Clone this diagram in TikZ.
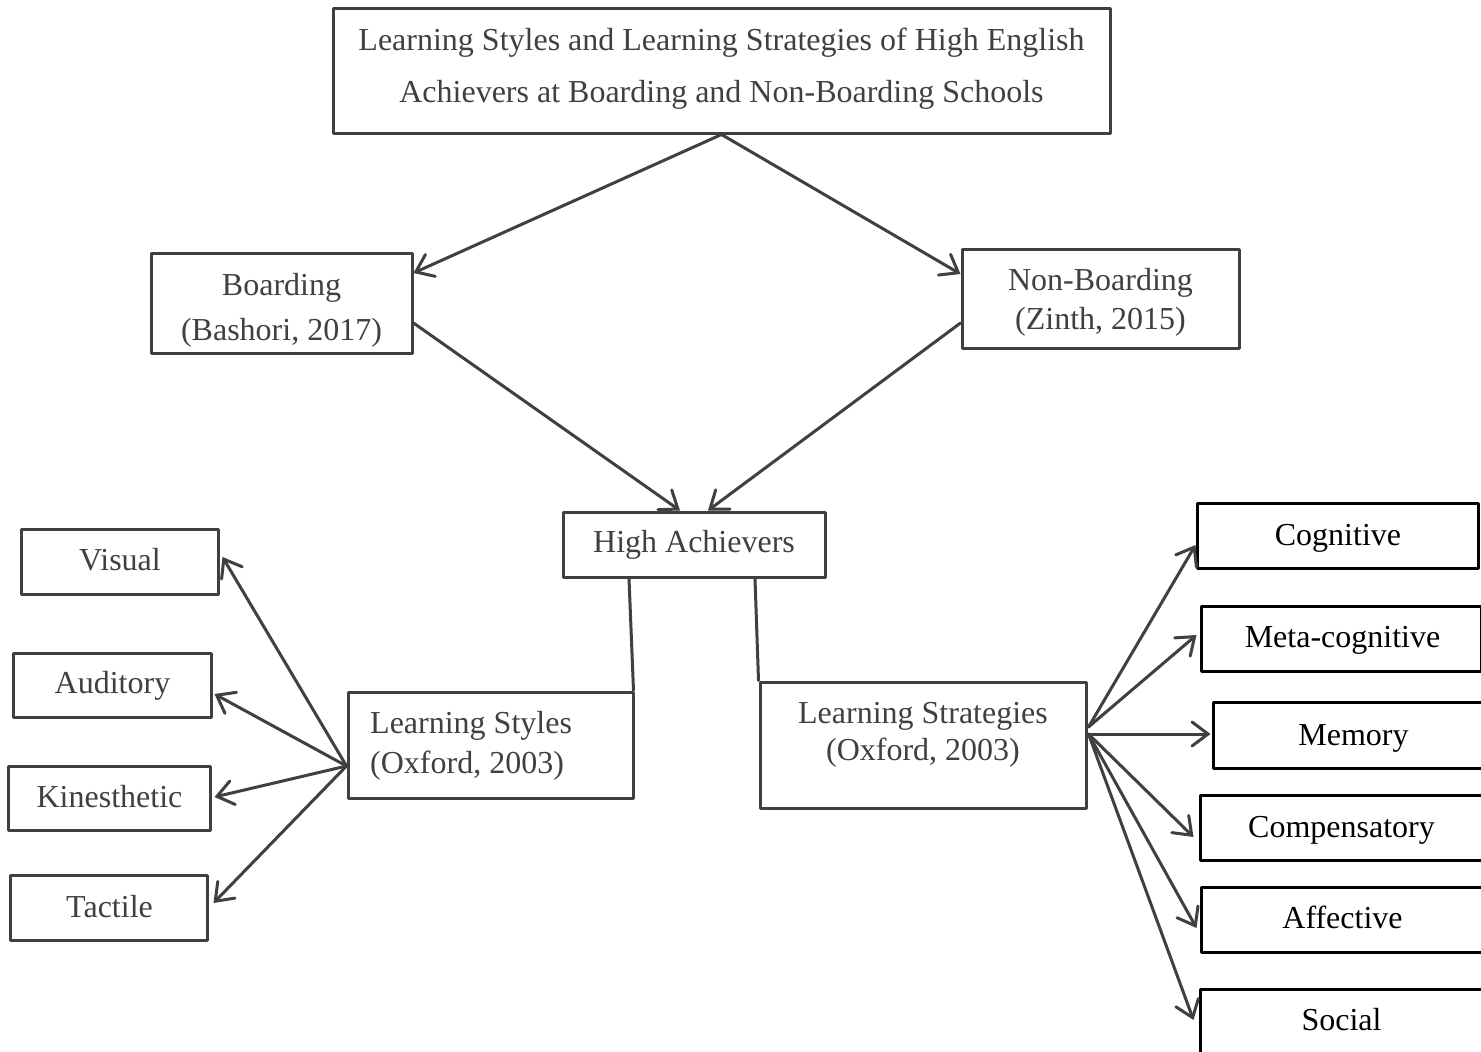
\documentclass[tikz,border=0pt]{standalone}
\usepackage{fontspec}
\setmainfont{Liberation Serif}
\usetikzlibrary{arrows.meta}
\definecolor{ink}{HTML}{404040}
\begin{document}
\begin{tikzpicture}[x=1pt,y=-1pt,
  box/.style={draw=ink, line width=3pt, line join=round, rectangle, inner sep=0pt},
  bbox/.style={draw=black, line width=3pt, line join=round, rectangle, inner sep=0pt},
  txt/.style={text=ink, inner sep=0pt, anchor=base, font=\fontsize{32}{38}\selectfont},
  btxt/.style={txt, text=black},
  arr/.style={draw=ink, line width=3pt, line cap=round, -{Straight Barb[length=16pt,width=24pt,line cap=round]}},
  conn/.style={draw=ink, line width=3pt, line cap=round}]
\useasboundingbox (0,0) rectangle (1481,1052);
\fill[white] (0,0) rectangle (1481,1052);
% boxes
\node[box, minimum width=777pt, minimum height=125pt] (title) at (721.5,70.5) {};
\node[box, minimum width=261pt, minimum height=100pt] (board) at (281.5,303) {};
\node[box, minimum width=277pt, minimum height=99pt] (nb) at (1100.5,298.5) {};
\node[box, minimum width=262pt, minimum height=65pt] (ha) at (694,544.5) {};
\node[box, minimum width=197pt, minimum height=65pt] (vis) at (119.5,561.5) {};
\node[box, minimum width=198pt, minimum height=64pt] (aud) at (112,685) {};
\node[box, minimum width=202pt, minimum height=64pt] (kin) at (109,798) {};
\node[box, minimum width=197pt, minimum height=65pt] (tac) at (108.5,907.5) {};
\node[box, minimum width=285pt, minimum height=106pt] (ls) at (490.5,745) {};
\node[box, minimum width=326pt, minimum height=126pt] (lst) at (923,745) {};
\node[bbox, minimum width=281pt, minimum height=65pt] (cog) at (1337.5,535.5) {};
\node[bbox, minimum width=280pt, minimum height=65pt] (meta) at (1341,638.5) {};
\node[bbox, minimum width=280pt, minimum height=66pt] (mem) at (1353,735) {};
\node[bbox, minimum width=282pt, minimum height=65pt] (comp) at (1341,827.5) {};
\node[bbox, minimum width=281pt, minimum height=65pt] (aff) at (1341.5,919.5) {};
\node[bbox, minimum width=282pt, minimum height=65pt] (soc) at (1341,1021.5) {};
% texts
\node[txt] (titleA) at (721.5,50) {Learning Styles and Learning Strategies of High English};
\node[txt] (titleB) at (721.5,102) {Achievers at Boarding and Non-Boarding Schools};
\node[txt] (boardA) at (281.5,295) {Boarding};
\node[txt] (boardB) at (281.5,340) {(Bashori, 2017)};
\node[txt] (nbA) at (1100.5,290) {Non-Boarding};
\node[txt] (nbB) at (1100.5,329) {(Zinth, 2015)};
\node[txt] (haT) at (694,552) {High Achievers};
\node[txt] (visT) at (120,570) {Visual};
\node[txt] (audT) at (112.5,693) {Auditory};
\node[txt] (kinT) at (109.5,807) {Kinesthetic};
\node[txt] (tacT) at (109.5,917) {Tactile};
\node[txt, anchor=base west] (lsA) at (370,733) {Learning Styles};
\node[txt, anchor=base west] (lsB) at (370,773) {(Oxford, 2003)};
\node[txt] (lstA) at (923,723) {Learning Strategies};
\node[txt] (lstB) at (923,760) {(Oxford, 2003)};
\node[btxt] (cogT) at (1338,545) {Cognitive};
\node[btxt] (metaT) at (1342.5,647) {Meta-cognitive};
\node[btxt] (memT) at (1353.5,745) {Memory};
\node[btxt] (compT) at (1341.5,837) {Compensatory};
\node[btxt] (affT) at (1342.5,928) {Affective};
\node[btxt] (socT) at (1341.5,1030) {Social};
% connectors
\draw[arr] (title.south) -- ([yshift=30pt]board.east);
\draw[arr] (title.south) -- ([yshift=24.5pt]nb.west);
\draw[arr] ([yshift=-20pt]board.east) -- ([xshift=-14pt]ha.north);
\draw[arr] ([yshift=-24.5pt]nb.west) -- ([xshift=14pt]ha.north);
\draw[conn] ([xshift=-65pt]ha.south) -- ([xshift=-1pt]ls.north east);
\draw[conn] ([xshift=61pt]ha.south) -- (lst.north west);
\coordinate (lsp) at ([yshift=-21pt]ls.west);
\draw[arr] (lsp) -- ([yshift=4.5pt,xshift=3pt]vis.east);
\draw[arr] (lsp) -- ([yshift=-9pt,xshift=2pt]aud.east);
\draw[arr] (lsp) -- ([yshift=1pt,xshift=3pt]kin.east);
\draw[arr] (lsp) -- ([yshift=4.5pt,xshift=5pt]tac.east);
\coordinate (lstp) at ([yshift=18pt,xshift=1pt]lst.east);
\coordinate (lstq) at ([yshift=11pt,xshift=1pt]lst.east);
\draw[arr] (lstp) -- ([yshift=-9.5pt]cog.west);
\draw[arr] (lstp) -- ([yshift=3.5pt,xshift=-3pt]meta.west);
\draw[arr] (lstq) -- ([yshift=1pt,xshift=-1pt]mem.west);
\draw[arr] (lstq) -- ([xshift=-5pt,yshift=-9.5pt]comp.west);
\draw[arr] (lstq) -- ([xshift=-3pt,yshift=-8.5pt]aff.west);
\draw[arr] (lstq) -- ([xshift=-5pt,yshift=1.5pt]soc.west);
\end{tikzpicture}
\end{document}
